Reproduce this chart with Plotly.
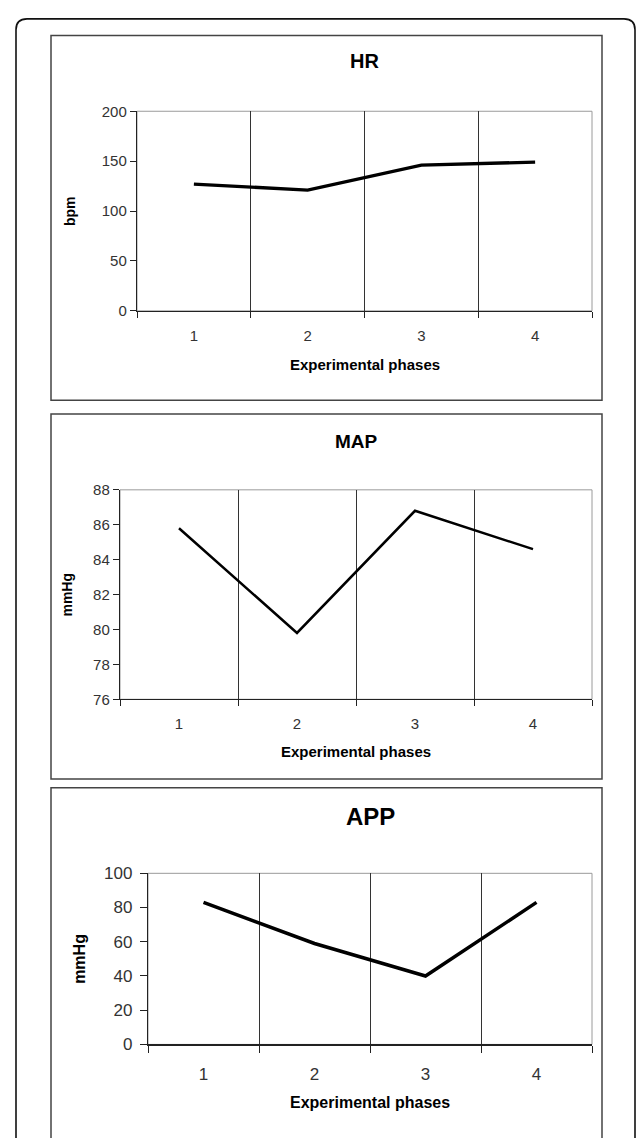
import plotly.graph_objects as go

# ---- data ----
phases = [1, 2, 3, 4]
hr_bpm = [127, 121, 146, 149]
map_mmhg = [85.8, 79.8, 86.8, 84.6]
app_mmhg = [83, 59, 40, 83]
titles = ["HR", "MAP", "APP"]
y_titles = ["bpm", "mmHg", "mmHg"]
x_title = "Experimental phases"

W, H = 636, 1138
FONT = "Liberation Sans, Arial, sans-serif"


def fx(x):
    return x / W


def fy(y):
    return 1 - y / H


panels = [
    dict(vals=hr_bpm, title=titles[0], ytitle=y_titles[0], box=(51, 602, 27, 398),
         plot=(137, 592, 104, 307), yrange=(0, 200), dtick=50,
         title_y=53, title_size=20, xt_y=362, xt_size=15, yt_x=70, yt_size=14,
         tick_size=15, lw=3.4, xstand=11, ystand=0, ticklen=6),
    dict(vals=map_mmhg, title=titles[1], ytitle=y_titles[1], box=(51, 602, 412, 783),
         plot=(120, 592, 489, 702), yrange=(76, 88), dtick=2,
         title_y=440, title_size=19, xt_y=755, xt_size=15, yt_x=67, yt_size=14,
         tick_size=15, lw=2.5, xstand=11, ystand=0, ticklen=6),
    dict(vals=app_mmhg, title=titles[2], ytitle=y_titles[2], box=(51, 602, 792, 1160),
         plot=(148, 592, 879, 1053), yrange=(0, 100), dtick=20,
         title_y=821, title_size=24, xt_y=1112, xt_size=16, yt_x=80, yt_size=16,
         tick_size=17, lw=3.5, xstand=14, ystand=4, ticklen=7),
]

fig = go.Figure()
shapes = []
annotations = []

# outer rounded frame
x0, x1, yt, yb = fx(16), fx(635), fy(10), fy(1160)
rx, ry = 11 / W, 11 / H
shapes.append(dict(
    type="path", xref="paper", yref="paper",
    path=(f"M {x0},{yb} L {x0},{yt - ry} Q {x0},{yt} {x0 + rx},{yt} "
          f"L {x1 - rx},{yt} Q {x1},{yt} {x1},{yt - ry} L {x1},{yb}"),
    line=dict(color="#111", width=1.6)))

for i, p in enumerate(panels, start=1):
    xa = "x" if i == 1 else f"x{i}"
    ya = "y" if i == 1 else f"y{i}"
    xl, xr, ytop, ybot = p["plot"]
    fig.add_trace(go.Scatter(
        x=phases, y=p["vals"], mode="lines", xaxis=xa, yaxis=ya,
        line=dict(color="#000", width=p["lw"]), showlegend=False,
        hoverinfo="skip"))
    axkey = "xaxis" if i == 1 else f"xaxis{i}"
    aykey = "yaxis" if i == 1 else f"yaxis{i}"
    fig.layout[axkey] = dict(
        domain=[fx(xl), fx(xr)], anchor=ya, range=[0.5, 4.5],
        tickmode="array", tickvals=phases, ticktext=[str(v) for v in phases],
        ticks="", showgrid=False, zeroline=False,
        showline=True, linecolor="#222", linewidth=1.2,
        tickfont=dict(family=FONT, size=p["tick_size"], color="#333"),
        ticklabelstandoff=p["xstand"],
        minor=dict(tick0=0.5, dtick=1, ticks="outside", ticklen=p["ticklen"],
                   tickcolor="#222", tickwidth=1, showgrid=True,
                   gridcolor="#333", gridwidth=1),
        fixedrange=True)
    fig.layout[aykey] = dict(
        domain=[fy(ybot), fy(ytop)], anchor=xa, range=list(p["yrange"]),
        tickmode="linear", tick0=p["yrange"][0], dtick=p["dtick"],
        ticks="outside", ticklen=p["ticklen"], tickcolor="#222", tickwidth=1,
        showgrid=False, zeroline=False,
        showline=True, linecolor="#222", linewidth=1.2,
        tickfont=dict(family=FONT, size=p["tick_size"], color="#333"),
        ticklabelstandoff=p["ystand"],
        fixedrange=True)
    # plot area border (top / right in grey)
    shapes.append(dict(type="rect", xref=f"{xa} domain", yref=f"{ya} domain",
                       x0=0, x1=1, y0=0, y1=1, layer="below",
                       line=dict(color="#9a9a9a", width=1)))
    # panel box
    bx0, bx1, by0, by1 = p["box"]
    shapes.append(dict(type="rect", xref="paper", yref="paper",
                       x0=fx(bx0), x1=fx(bx1), y0=fy(by1), y1=fy(by0),
                       line=dict(color="#444", width=1.5)))
    # titles
    annotations.append(dict(
        text=f"<b>{p['title']}</b>", xref="paper", yref="paper",
        x=fx((xl + xr) / 2), y=fy(p["title_y"]), xanchor="center",
        yanchor="middle", showarrow=False,
        font=dict(family=FONT, size=p["title_size"], color="#000")))
    annotations.append(dict(
        text=f"<b>{x_title}</b>", xref="paper", yref="paper",
        x=fx((xl + xr) / 2), y=fy(p["xt_y"]), xanchor="center",
        yanchor="middle", showarrow=False,
        font=dict(family=FONT, size=p["xt_size"], color="#000")))
    annotations.append(dict(
        text=f"<b>{p['ytitle']}</b>", xref="paper", yref="paper",
        x=fx(p["yt_x"]), y=fy((ytop + ybot) / 2), xanchor="center",
        yanchor="middle", showarrow=False, textangle=-90,
        font=dict(family=FONT, size=p["yt_size"], color="#000")))

fig.update_layout(
    width=W, height=H, autosize=False,
    margin=dict(l=0, r=0, t=0, b=0),
    paper_bgcolor="#fff", plot_bgcolor="#fff",
    shapes=shapes, annotations=annotations, showlegend=False)

fig.write_html(
    "out.html",
    config={"displayModeBar": False, "staticPlot": True},
    post_script="document.body.style.margin='0';document.body.style.overflow='hidden';")
